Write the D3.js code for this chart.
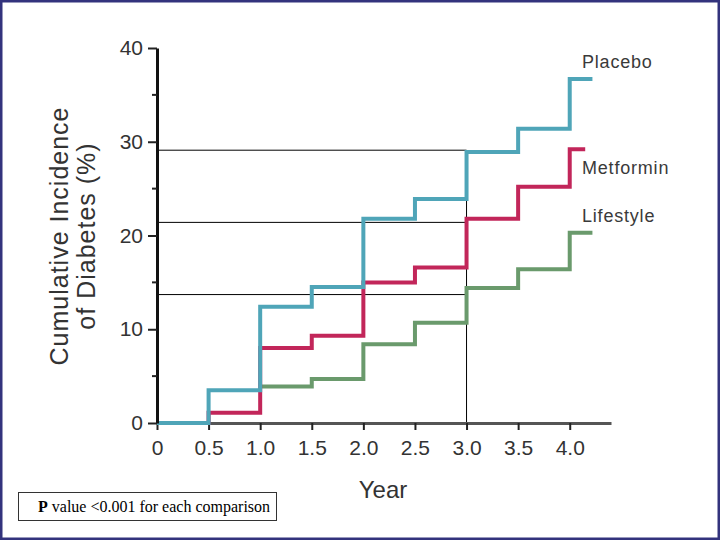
<!DOCTYPE html>
<html>
<head>
<meta charset="utf-8">
<script src="https://cdn.jsdelivr.net/npm/d3@7"></script>
<style>
  body { margin: 0; background: #fff; }
  svg { display: block; }
</style>
</head>
<body>
<div id="chart"></div>
<script>
"use strict";

// step points: year where the step starts, cumulative incidence (%)
var placeboYears = [0, 0.5, 1.0, 1.5, 2.0, 2.5, 3.0, 3.5, 4.0, 4.22];
var placeboValues = [0, 3.5, 12.4, 14.5, 21.8, 23.9, 28.9, 31.4, 36.7, 36.7];

var metforminYears = [0, 0.5, 1.0, 1.5, 2.0, 2.5, 3.0, 3.5, 4.0, 4.15];
var metforminValues = [0, 1.1, 8.0, 9.3, 15.0, 16.6, 21.8, 25.2, 29.2, 29.2];

var lifestyleYears = [1.0, 1.5, 2.0, 2.5, 3.0, 3.5, 4.0, 4.22];
var lifestyleValues = [3.9, 4.7, 8.4, 10.7, 14.4, 16.4, 20.3, 20.3];

var seriesNames = ["Placebo", "Metformin", "Lifestyle"];
var seriesColors = ["#4fa5b8", "#c2265a", "#6a9a6c"];
var labelValues = [37.9, 26.6, 21.4];

// reference lines at year 3
var refYear = 3.0;
var refValues = [29.1, 21.4, 13.7];

var xTicks = [0, 0.5, 1.0, 1.5, 2.0, 2.5, 3.0, 3.5, 4.0];
var yMajor = [0, 10, 20, 30, 40];
var yMinor = [5, 15, 25, 35];

var W = 720, H = 540;
var sans = "Liberation Sans, Arial, sans-serif";

var svg = d3.select("#chart").append("svg")
    .attr("width", W)
    .attr("height", H);

svg.append("rect")
    .attr("x", 1).attr("y", 1)
    .attr("width", W - 2).attr("height", H - 2)
    .attr("fill", "#fff")
    .attr("stroke", "#33337d")
    .attr("stroke-width", 3);

var x = d3.scaleLinear().domain([0, 4.4]).range([157, 611]);
var y = d3.scaleLinear().domain([0, 40]).range([423, 48]);

// reference lines (thin black)
var refs = svg.append("g").attr("class", "refs");
refValues.forEach(function (v) {
    refs.append("line")
        .attr("x1", x(0)).attr("x2", x(refYear))
        .attr("y1", y(v)).attr("y2", y(v))
        .attr("stroke", "#000").attr("stroke-width", 1);
});
refs.append("line")
    .attr("x1", x(refYear)).attr("x2", x(refYear))
    .attr("y1", y(refValues[0])).attr("y2", y(0))
    .attr("stroke", "#000").attr("stroke-width", 1);

// x axis
var xAxis = svg.append("g")
    .attr("transform", "translate(0," + y(0) + ")")
    .call(d3.axisBottom(x).tickValues(xTicks).tickSize(7).tickSizeOuter(0)
        .tickFormat(function (d) { return d === 0 ? "0" : d3.format(".1f")(d); }));
xAxis.select(".domain").attr("stroke", "#555").attr("stroke-width", 3);
xAxis.selectAll(".tick line").attr("stroke", "#222").attr("stroke-width", 2);
xAxis.selectAll(".tick text")
    .attr("y", 17)
    .attr("font-family", sans)
    .attr("font-size", 21)
    .attr("fill", "#333");

// lines
var line = d3.line()
    .x(function (d) { return x(d[0]); })
    .y(function (d) { return y(d[1]); })
    .curve(d3.curveStepAfter);

var series = [
    d3.zip(placeboYears, placeboValues),
    d3.zip(metforminYears, metforminValues),
    d3.zip(lifestyleYears, lifestyleValues)
];

// draw lifestyle first so placebo/metformin sit on top
[2, 1, 0].forEach(function (i) {
    svg.append("path")
        .datum(series[i])
        .attr("d", line)
        .attr("fill", "none")
        .attr("stroke", seriesColors[i])
        .attr("stroke-width", 4);
});

// y axis
var yAxis = svg.append("g")
    .attr("transform", "translate(" + x(0) + ",0)")
    .call(d3.axisLeft(y).tickValues(yMajor).tickSize(9).tickSizeOuter(0));
yAxis.select(".domain").attr("stroke", "#111").attr("stroke-width", 3);
yAxis.selectAll(".tick line").attr("stroke", "#222").attr("stroke-width", 2);
yAxis.selectAll(".tick text")
    .attr("x", -14)
    .attr("font-family", sans)
    .attr("font-size", 21)
    .attr("fill", "#333");

svg.append("g").selectAll("line")
    .data(yMinor)
    .enter().append("line")
    .attr("x1", x(0) - 5).attr("x2", x(0))
    .attr("y1", function (d) { return y(d); })
    .attr("y2", function (d) { return y(d); })
    .attr("stroke", "#222").attr("stroke-width", 2);

// series labels
svg.append("g").selectAll("text")
    .data(seriesNames)
    .enter().append("text")
    .attr("x", 582)
    .attr("y", function (d, i) { return y(labelValues[i]); })
    .attr("font-family", sans)
    .attr("font-size", 18)
    .attr("letter-spacing", 0.8)
    .attr("fill", "#3a3a3a")
    .text(function (d) { return d; });

// axis titles
svg.append("text")
    .attr("x", 383).attr("y", 498)
    .attr("text-anchor", "middle")
    .attr("font-family", sans)
    .attr("font-size", 24)
    .attr("fill", "#333")
    .text("Year");

var yTitle = svg.append("text")
    .attr("transform", "translate(68,236) rotate(-90)")
    .attr("text-anchor", "middle")
    .attr("font-family", sans)
    .attr("font-size", 25)
    .attr("letter-spacing", 1)
    .attr("fill", "#333");
yTitle.append("tspan").attr("x", 0).attr("dy", 0).text("Cumulative Incidence");
yTitle.append("tspan").attr("x", 0).attr("dy", 27).text("of Diabetes (%)");

// p value note
svg.append("rect")
    .attr("x", 18.5).attr("y", 492.5)
    .attr("width", 258).attr("height", 28)
    .attr("fill", "#fff")
    .attr("stroke", "#333")
    .attr("stroke-width", 1);

var note = svg.append("text")
    .attr("x", 38).attr("y", 512)
    .attr("font-family", "Liberation Serif, Times New Roman, serif")
    .attr("font-size", 16)
    .attr("fill", "#000");
note.append("tspan").attr("font-weight", "bold").text("P");
note.append("tspan").text(" value <0.001 for each comparison");
</script>
</body>
</html>
